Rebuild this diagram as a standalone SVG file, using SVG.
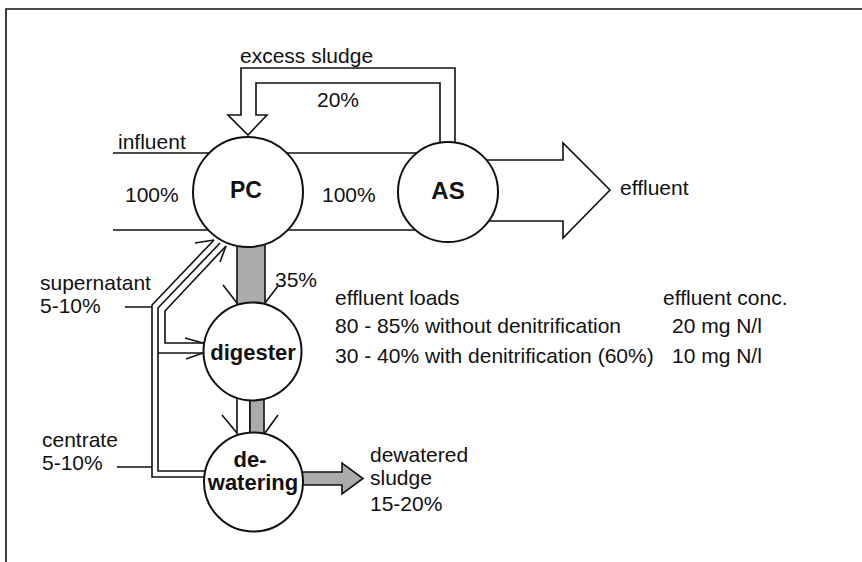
<svg xmlns="http://www.w3.org/2000/svg" width="862" height="562" viewBox="0 0 862 562">
<style>
.ln{fill:none;stroke:#111;stroke-width:1.6;stroke-linejoin:miter}
.gr{fill:#ababab;stroke:#111;stroke-width:1.6}
.wh{fill:#fff;stroke:#111;stroke-width:1.6}
.node{fill:#fff;stroke:#111;stroke-width:2}
.t{font-family:"Liberation Sans",Arial,sans-serif;font-size:21px;fill:#111}
.b{font-family:"Liberation Sans",Arial,sans-serif;font-weight:bold;fill:#111;text-anchor:middle}
</style>
<rect width="862" height="562" fill="#fff"/>
<g id="frame">
<path class="ln" stroke-width="2" d="M6,562 V9 H862"/>
</g>
<g id="connectors">
<!-- influent / main flow lines -->
<path class="ln" d="M113,153 H215 M113,230 H215"/>
<path class="ln" d="M280,153 H422 M280,230 H422"/>
<!-- effluent arrow -->
<path class="ln" d="M478,160 H563 V143 L610,190 L563,238 V221 H478"/>
<!-- excess sludge return -->
<path class="ln" d="M455,150 V68 H241 V115 H228 L248,135 L267,115 H256 V83 H440 V150"/>
<!-- PC to digester -->
<rect class="gr" x="237" y="236" width="28" height="72"/>
<path class="ln" d="M223,285 L237,303 M278,286 L265,303"/>
<!-- digester to dewatering -->
<rect class="wh" x="237" y="392" width="13" height="46"/>
<rect class="gr" x="250" y="392" width="14" height="46"/>
<path class="ln" d="M222,415 L237,433 M278,415 L265,433"/>
<!-- dewatered sludge -->
<path class="gr" d="M290,472 H342 V463 L363,478.5 L342,494 V485 H290 Z"/>
<!-- return lines -->
<path class="ln" d="M230,477 H152 V305 L214,240"/>
<path class="ln" d="M230,471 H158 V308 L220,243"/>
<path class="ln" d="M158,353 H203"/>
<path class="ln" d="M220,343 H165 V311 L226,246"/>
<path class="ln" d="M195,243 L214,240 M220,262 L226,246"/>
<path class="ln" d="M185,338 L203,343 M186,359 L203,353"/>
<path class="ln" d="M125,307 H152 M117,467 H152"/>
</g>
<g id="PC">
<circle class="node" cx="248" cy="192" r="55"/>
<text class="b" x="246" y="198" font-size="23">PC</text>
</g>
<g id="AS">
<circle class="node" cx="448" cy="192" r="50"/>
<text class="b" x="448" y="199" font-size="24">AS</text>
</g>
<g id="digester">
<circle class="node" cx="252.5" cy="351.5" r="49"/>
<text class="b" x="253" y="360" font-size="22">digester</text>
</g>
<g id="dewatering">
<circle class="node" cx="253.5" cy="482" r="49.5"/>
<text class="b" x="250" y="467" font-size="22">de-</text>
<text class="b" x="253" y="490" font-size="22">watering</text>
</g>
<g id="labels">
<text class="t" x="240" y="63">excess sludge</text>
<text class="t" x="317" y="107">20%</text>
<text class="t" x="118" y="149">influent</text>
<text class="t" x="125" y="202">100%</text>
<text class="t" x="322" y="202">100%</text>
<text class="t" x="620" y="195">effluent</text>
<text class="t" x="40" y="290">supernatant</text>
<text class="t" x="40" y="313">5-10%</text>
<text class="t" x="275" y="287">35%</text>
<text class="t" x="42" y="447">centrate</text>
<text class="t" x="42" y="470">5-10%</text>
<text class="t" x="370" y="462">dewatered</text>
<text class="t" x="370" y="485">sludge</text>
<text class="t" x="370" y="511">15-20%</text>
<text class="t" x="335" y="305">effluent loads</text>
<text class="t" x="335" y="333">80 - 85% without denitrification</text>
<text class="t" x="335" y="363">30 - 40% with denitrification (60%)</text>
<text class="t" x="663" y="305">effluent conc.</text>
<text class="t" x="672" y="333">20 mg N/l</text>
<text class="t" x="672" y="363">10 mg N/l</text>
</g>
</svg>
